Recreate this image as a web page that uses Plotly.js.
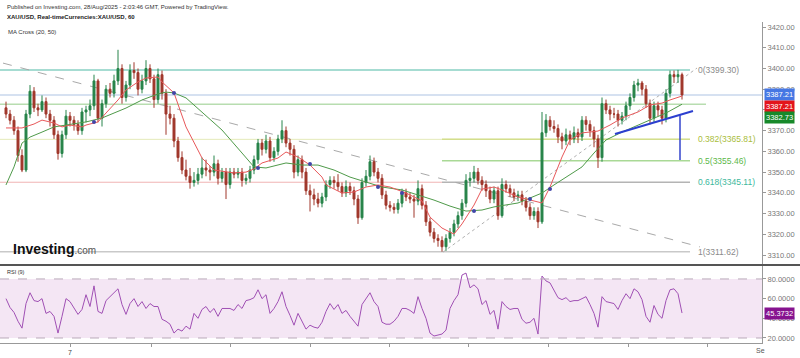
<!DOCTYPE html>
<html><head><meta charset="utf-8">
<script src="https://cdn.plot.ly/plotly-3.0.1.min.js"></script>
<style>html,body{margin:0;padding:0;background:#fff}#chart{width:800px;height:358px}</style>
</head><body><div id="chart"></div>
<script>
// ---- Data (hourly candles, XAU/USD) ----
const opens = [3381,3378,3375,3370,3358,3351,3378,3389,3381,3380,
3384,3378,3375,3368,3359,3368,3377,3375,3373,3370,
3379,3380,3382,3394,3376,3383,3390,3388,3394,3400,
3386,3392,3399,3398,3390,3394,3400,3395,3385,3397,
3388,3378,3376,3365,3357,3351,3348,3345,3346,3349,
3352,3351,3350,3354,3347,3350,3344,3350,3349,3350,
3346,3347,3351,3356,3364,3361,3365,3357,3360,3366,
3370,3364,3361,3350,3356,3350,3341,3339,3337,3335,
3338,3344,3346,3345,3343,3340,3343,3341,3337,3328,
3345,3348,3355,3350,3347,3339,3334,3333,3332,3335,
3340,3338,3337,3336,3342,3334,3326,3321,3318,3317,
3314,3318,3321,3325,3329,3335,3346,3347,3350,3346,
3344,3341,3337,3341,3329,3344,3342,3340,3338,3339,
3336,3333,3329,3331,3326,3369,3375,3372,3371,3367,
3365,3368,3366,3369,3367,3375,3373,3370,3366,3357,
3383,3380,3378,3378,3375,3377,3382,3386,3392,3393,
3390,3383,3376,3382,3380,3376,3388,3397,3396,3397];
const highs = [3384,3380,3377,3372,3361,3380,3392,3391,3383,3387,
3386,3380,3377,3370,3370,3380,3379,3377,3375,3381,
3382,3385,3397,3395,3385,3392,3393,3397,3409,3402,
3394,3402,3403,3400,3397,3404,3402,3397,3400,3399,
3390,3382,3378,3367,3360,3356,3352,3350,3352,3357,
3356,3353,3358,3356,3352,3352,3352,3352,3352,3352,
3349,3353,3358,3366,3366,3368,3367,3362,3368,3375,
3372,3366,3363,3358,3358,3352,3344,3342,3340,3340,
3346,3348,3348,3349,3345,3346,3345,3343,3339,3347,
3351,3358,3357,3352,3349,3341,3336,3335,3337,3342,
3342,3340,3339,3346,3344,3336,3328,3323,3320,3319,
3320,3323,3327,3331,3337,3349,3350,3353,3352,3348,
3346,3343,3343,3343,3347,3346,3344,3342,3341,3341,
3338,3335,3333,3333,3379,3378,3377,3375,3373,3369,
3371,3370,3372,3371,3377,3377,3375,3372,3368,3386,
3385,3382,3381,3380,3379,3384,3388,3394,3395,3394,
3392,3385,3384,3384,3382,3390,3399,3399,3399.3,3398];
const lows = [3376,3373,3368,3355,3350,3350,3376,3379,3377,3379,
3376,3372,3366,3356,3357,3366,3372,3370,3368,3368,
3374,3377,3380,3374,3372,3381,3386,3386,3392,3383,
3384,3390,3395,3387,3388,3392,3393,3381,3383,3385,
3368,3373,3362,3355,3349,3346,3342,3343,3344,3347,
3348,3346,3348,3344,3345,3337,3342,3347,3347,3343,
3344,3345,3349,3354,3358,3359,3355,3355,3358,3364,
3362,3358,3347,3348,3347,3339,3331,3334,3333,3333,
3336,3342,3342,3341,3338,3338,3339,3334,3325,3327,
3343,3346,3348,3345,3337,3332,3331,3330,3330,3333,
3336,3335,3328,3334,3332,3324,3319,3316,3314,3311.62,
3312,3316,3319,3323,3327,3333,3343,3345,3344,3341,
3338,3335,3335,3327,3328,3340,3338,3336,3336,3334,
3331,3327,3327,3323,3325,3367,3370,3369,3364,3361,
3363,3363,3364,3364,3365,3370,3367,3362,3352,3355,
3378,3375,3376,3372,3373,3375,3380,3384,3389,3387,
3381,3373,3374,3377,3373,3374,3386,3393,3393,3385];
const closes = [3378,3375,3370,3358,3351,3378,3389,3381,3380,3384,
3378,3375,3368,3359,3368,3377,3375,3373,3370,3379,
3380,3382,3394,3376,3383,3390,3388,3394,3400,3386,
3392,3399,3398,3390,3394,3400,3395,3385,3397,3388,
3378,3376,3365,3357,3351,3348,3345,3346,3349,3352,
3351,3350,3354,3347,3350,3344,3350,3349,3350,3346,
3347,3351,3356,3364,3361,3365,3357,3360,3366,3370,
3364,3361,3350,3356,3350,3341,3339,3337,3335,3338,
3344,3346,3345,3343,3340,3343,3341,3337,3328,3345,
3348,3355,3350,3347,3339,3334,3333,3332,3335,3340,
3338,3337,3336,3342,3334,3326,3321,3318,3317,3314,
3318,3321,3325,3329,3335,3346,3347,3350,3346,3344,
3341,3337,3341,3329,3344,3342,3340,3338,3339,3336,
3333,3329,3331,3326,3369,3375,3372,3371,3367,3365,
3368,3366,3369,3367,3375,3373,3370,3366,3357,3383,
3380,3378,3378,3375,3377,3382,3386,3392,3393,3390,
3383,3376,3382,3380,3376,3388,3397,3396,3397,3387.21];

// MA(20) and MA(50) (bar index, value)
const maFastX = [0,4,7,9,12,14,16,19,20,23,25,28,30,33,35,38,39,42,45,48,49,52,57,60,62,64,68,70,73,76,79,80,84,87,90,93,96,100,104,106,109,112,114,117,119,122,124,128,131,134,136,139,141,144,148,151,154,158,161,164,166,169];
const maFastY = [3371.3,3371.3,3373.2,3375.1,3373.7,3371.8,3372.7,3371.8,3372.7,3374.2,3378.5,3384.8,3389.6,3393.5,3395.4,3395.9,3393.5,3388.2,3371.8,3360.7,3356.8,3351.0,3349.6,3350.0,3351.5,3354.4,3356.8,3359.7,3357.3,3353.4,3347.6,3343.8,3339.9,3340.4,3342.8,3343.8,3342.8,3339.9,3336.1,3328.3,3323.0,3320.1,3325.0,3334.1,3341.8,3342.8,3341.4,3338.0,3336.5,3335.1,3342.8,3357.3,3365.5,3368.9,3369.8,3372.7,3376.1,3379.0,3382.4,3383.3,3384.8,3386.7];
const maSlowX = [0,2,4,6,9,12,15,20,24,26,30,34,38,40,42,45,49,54,59,62,65,70,74,78,82,86,90,94,99,103,107,111,115,119,122,128,131,134,137,140,144,147,150,154,158,162,165,169];
const maSlowY = [3343.8,3352.5,3364.0,3366.9,3369.3,3371.8,3372.7,3374.2,3376.1,3377.6,3380.9,3384.8,3387.7,3388.6,3388.2,3385.8,3379.0,3370.3,3359.2,3352.5,3352.0,3354.4,3353.4,3353.4,3351.0,3347.6,3345.2,3342.8,3341.4,3338.9,3336.5,3333.6,3331.2,3331.7,3333.2,3335.1,3337.5,3339.9,3343.8,3347.6,3352.5,3359.2,3365.5,3369.3,3372.7,3376.1,3378.5,3382.73];
const crossX = [22,42,63,76,93,99,117,131,136];
const crossY = [3374.2,3388.2,3352.0,3353.9,3342.8,3339.9,3331.2,3337.0,3341.8];

// RSI(9) per bar
const rsi = [60,51,46,37,30,55,66,58,57,60,
45,47,42,25,42,60,57,50,44,49,
64,52,73,47,45,58,62,66,70,54,
44,55,60,52,57,50,55,52,52,39,
37,34,25,29,27,32,29,45,40,49,
52,46,50,42,50,50,50,48,54,50,
58,59,61,69,60,64,45,50,57,67,
52,43,33,45,37,29,33,31,30,36,
47,55,49,54,45,48,42,37,32,54,
60,66,57,52,36,34,34,37,42,50,
50,48,45,62,50,40,25,22,23,24,
28,50,58,64,84,86,71,74,70,54,
58,44,48,29,57,52,49,50,50,39,
35,36,40,24,83,78,76,68,61,59,
61,57,58,58,60,62,54,45,31,62,
57,56,55,49,58,65,60,70,67,59,
42,36,53,44,40,58,69,70,65,45.3732];

// Fibonacci retracement
const fibLevels = ['0','0.382','0.5','0.618','1'];
const fibPrices = [3399.30,3365.81,3355.46,3345.11,3311.62];
const fibColors = ['#8a8a8a','#a9bd3c','#5cb84a','#3db89c','#8a8a8a'];

// Axis ticks
const priceTicks = [3310,3320,3330,3340,3350,3360,3370,3380,3390,3400,3410,3420];
const hiddenPriceTicks = [3380]; // covered by the last-value boxes in the reference
const rsiTicks = [20,40,60,80];
const timeTickIdx = [16,36.25,56,76,95.75,115.5,135.5,155.5,175.25];
const timeTickText = ['7','','','','','','','',''];

const lastPrice = 3387.21, lastMaFast = 3387.21, lastMaSlow = 3382.73, lastRsi = 45.3732;

const idx = closes.map((_, i) => i);
const FONT = 'Liberation Sans, Arial, sans-serif';

const traces = [
  {type:'scatter', mode:'lines', x:maSlowX, y:maSlowY, xaxis:'x', yaxis:'y',
   line:{color:'#4f9a4a', width:1}, hoverinfo:'skip'},
  {type:'scatter', mode:'lines', x:maFastX, y:maFastY, xaxis:'x', yaxis:'y',
   line:{color:'#e8585a', width:1}, hoverinfo:'skip'},
  {type:'candlestick', x:idx, open:opens, high:highs, low:lows, close:closes,
   xaxis:'x', yaxis:'y',
   increasing:{line:{color:'#27844a', width:1}, fillcolor:'#27844a'},
   decreasing:{line:{color:'#a0372b', width:1}, fillcolor:'#a0372b'},
   whiskerwidth:0, hoverinfo:'skip'},
  {type:'scatter', mode:'markers', x:crossX, y:crossY, xaxis:'x', yaxis:'y',
   marker:{color:'#4146a8', size:4, symbol:'circle'}, hoverinfo:'skip'},
  {type:'scatter', mode:'lines', x:idx, y:rsi, xaxis:'x', yaxis:'y2',
   line:{color:'#a050b4', width:1}, hoverinfo:'skip'}
];

const fibStart = 109, fibEnd = 171;
const shapes = [
  {type:'rect', xref:'paper', yref:'y2', x0:0, x1:1, y0:20, y1:80, fillcolor:'#f4e6f4', line:{width:0}, layer:'below'},
  {type:'line', xref:'paper', yref:'y2', x0:0, x1:1, y0:80, y1:80, line:{color:'#b9a9b9', width:1, dash:'dash'}},
  {type:'line', xref:'paper', yref:'y2', x0:0, x1:1, y0:20, y1:20, line:{color:'#b9a9b9', width:1, dash:'dash'}},
  // long horizontal levels
  {type:'line', xref:'x', yref:'y', x0:-1.5, x1:fibEnd, y0:fibPrices[0], y1:fibPrices[0], line:{color:'#a6dcd2', width:2}, layer:'below'},
  {type:'line', xref:'x', yref:'y', x0:-1.5, x1:189, y0:lastPrice, y1:lastPrice, line:{color:'#c9d7ec', width:1.5}, layer:'below'},
  {type:'line', xref:'x', yref:'y', x0:-1.5, x1:175, y0:lastMaSlow, y1:lastMaSlow, line:{color:'#b8ddb0', width:1.5}, layer:'below'},
  {type:'line', xref:'x', yref:'y', x0:-1.5, x1:fibEnd, y0:fibPrices[1], y1:fibPrices[1], line:{color:'#e4eab8', width:1}, layer:'below'},
  {type:'line', xref:'x', yref:'y', x0:-1.5, x1:fibStart, y0:fibPrices[3], y1:fibPrices[3], line:{color:'#f0b4b4', width:1}, layer:'below'},
  {type:'line', xref:'x', yref:'y', x0:-1.5, x1:fibEnd, y0:fibPrices[4], y1:fibPrices[4], line:{color:'#c9c9c9', width:1.5}, layer:'below'},
  // fib segment levels
  {type:'line', xref:'x', yref:'y', x0:fibStart, x1:fibEnd, y0:fibPrices[1], y1:fibPrices[1], line:{color:'#d3de8c', width:1.5}, layer:'below'},
  {type:'line', xref:'x', yref:'y', x0:fibStart, x1:fibEnd, y0:fibPrices[2], y1:fibPrices[2], line:{color:'#a9d996', width:1.5}, layer:'below'},
  {type:'line', xref:'x', yref:'y', x0:fibStart, x1:fibEnd, y0:fibPrices[3], y1:fibPrices[3], line:{color:'#b4b4b4', width:1.5}, layer:'below'},
  // dashed trend lines
  {type:'line', xref:'x', yref:'y', x0:-0.75, y0:3402.6, x1:173.5, y1:3313.9, line:{color:'#a9a9a9', width:1, dash:'dash'}, layer:'below'},
  {type:'line', xref:'x', yref:'y', x0:109.25, y0:3311.4, x1:172.75, y1:3400.2, line:{color:'#b0b0b0', width:1, dash:'dot'}, layer:'below'},
  // blue drawings
  {type:'line', xref:'x', yref:'y', x0:152.25, y0:3368.4, x1:171.75, y1:3379.5, line:{color:'#2c3fcf', width:2}},
  {type:'line', xref:'x', yref:'y', x0:168.5, y0:3377.5, x1:168.5, y1:3355.8, line:{color:'#3344cc', width:1.5}},
  // pane separator
  {type:'line', xref:'paper', yref:'paper', x0:0, x1:1.06, y0:0.243, y1:0.243, line:{color:'#555', width:2}}
];

const ann = [];
const hdr = (text, x, y, size, color, bold) => ann.push({xref:'paper', yref:'paper', x:x, y:y, xanchor:'left', yanchor:'middle',
  text: bold ? '<b>'+text+'</b>' : text, showarrow:false, font:{family:FONT, size:size, color:color}});
hdr('Published on Investing.com, 28/Aug/2025 - 2:03:46 GMT, Powered by TradingView.', 0.006, 1.0467, 6, '#333', false);
hdr('XAU/USD, Real-timeCurrencies:XAU/USD, 60', 0.006, 1.0156, 6, '#222', true);
hdr('MA Cross (20, 50)', 0.008, 0.9688, 6, '#333', false);
hdr('RSI (9)', 0.006, 0.2212, 5.5, '#333', false);
ann.push({xref:'paper', yref:'paper', x:0.014, y:0.2928, xanchor:'left', yanchor:'middle', showarrow:false,
  text:'<b>Investing</b><span style="font-size:10px;color:#555">.com</span>', font:{family:FONT, size:14, color:'#111'}});
ann.push({xref:'paper', yref:'paper', x:0.990, y:-0.022, xanchor:'left', yanchor:'middle', showarrow:false,
  text:'Se', font:{family:FONT, size:7, color:'#555'}});
fibLevels.forEach((lv, k) => ann.push({xref:'x', yref:'y', x:172.5, y:fibPrices[k], xanchor:'left', yanchor:'middle', showarrow:false,
  text: lv + '(' + fibPrices[k].toFixed(2) + ')', font:{family:FONT, size:8.5, color:fibColors[k]}}));
const box = (val, yref, yv, shift, bg) => ann.push({xref:'paper', yref:yref, x:1.002, y:yv, yshift:shift, xanchor:'left', yanchor:'middle',
  showarrow:false, text:val, bgcolor:bg, borderpad:1, font:{family:FONT, size:7.5, color:'#fff'}});
box(lastPrice.toFixed(2), 'y', lastPrice, 0, '#4677e4');
box(lastMaFast.toFixed(2), 'y', lastPrice, -12, '#e3141b');
box(lastMaSlow.toFixed(2), 'y', lastPrice, -22.5, '#17892a');
box(lastRsi.toFixed(4), 'y2', lastRsi, 0, '#86138f');

const layout = {
  width:800, height:358, margin:{l:0, r:38, t:22, b:15},
  paper_bgcolor:'#fff', plot_bgcolor:'#fff', showlegend:false,
  xaxis:{anchor:'y2', range:[-1.5, 189], showgrid:false, zeroline:false, showline:true, linecolor:'#999', linewidth:1,
    ticks:'outside', ticklen:3, tickcolor:'#999', tickvals:timeTickIdx, ticktext:timeTickText,
    tickfont:{family:FONT, size:7, color:'#444'}, rangeslider:{visible:false}, fixedrange:true},
  yaxis:{domain:[0.243, 1], anchor:'x', side:'right', range:[3305.18, 3422.42], showgrid:false, zeroline:false,
    showline:true, linecolor:'#999', ticks:'outside', ticklen:3, tickcolor:'#999',
    tickvals:priceTicks, ticktext:priceTicks.map(v => hiddenPriceTicks.includes(v) ? '' : v.toFixed(2)),
    tickfont:{family:FONT, size:7.5, color:'#777'}},
  yaxis2:{domain:[0, 0.243], anchor:'x', side:'right', range:[14.9, 94.2], showgrid:false, zeroline:false,
    showline:true, linecolor:'#999', ticks:'outside', ticklen:3, tickcolor:'#999',
    tickvals:rsiTicks, ticktext:rsiTicks.map(v => v.toFixed(4)), tickfont:{family:FONT, size:7.5, color:'#777'}},
  shapes:shapes, annotations:ann
};
Plotly.newPlot('chart', traces, layout, {staticPlot:true, displayModeBar:false});
</script></body></html>
